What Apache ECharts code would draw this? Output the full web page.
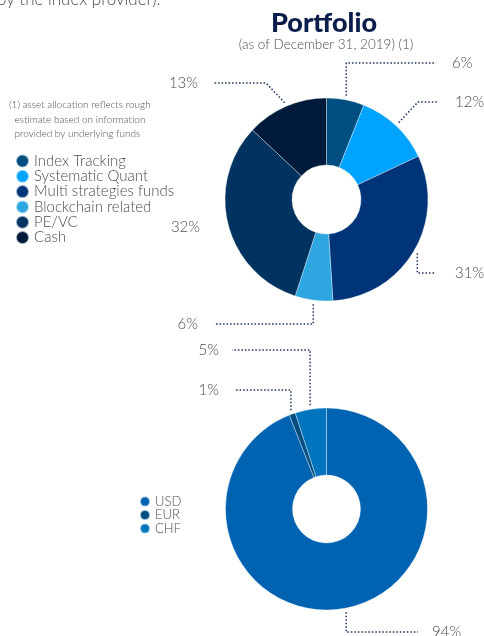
<!DOCTYPE html>
<html>
<head>
<meta charset="utf-8">
<script src="https://cdn.jsdelivr.net/npm/echarts@6/dist/echarts.min.js"></script>
<style>
html,body{margin:0;padding:0;background:#fff;}
#chart{width:484px;height:636px;}
</style>
</head>
<body>
<div id="chart"></div>
<script>
// ---- data ----
const portfolioCategories = ['Index Tracking', 'Systematic Quant', 'Multi strategies funds', 'Blockchain related', 'PE/VC', 'Cash'];
const portfolioValues = [6, 12, 31, 6, 32, 13];
const currencyCategories = ['USD', 'EUR', 'CHF'];
const currencyValues = [94, 1, 5];
const titleText = 'Portfolio';
const subtitleText = '(as of December 31, 2019) (1)';
const noteLines = ['(1) asset allocation reflects rough', '  estimate based on information', '  provided by underlying funds'];
const topCutText = 'by the index provider).';

// ---- styles / layout ----
const portfolioColors = ['#004f80', '#00a3ff', '#003478', '#2ea6e0', '#00335f', '#001a3c'];
const currencyColors = ['#0063b1', '#004e80', '#0075bd'];
const FONT = 'Lato, "Open Sans", sans-serif';
const TEXT_GRAY = '#4d4d4d';
const LINE_COLOR = '#1b2f5c';

// label placement (x,y of label, leader shape)
const portfolioLabelPlace = [
  {x: 452, y: 63, align: 'left', bend: 'vertical', endX: 436},
  {x: 455, y: 102, align: 'left', bend: 'elbow', elbowX: 418, endX: 437},
  {x: 455, y: 273, align: 'left', bend: 'vertical', endX: 436},
  {x: 198, y: 324, align: 'right', bend: 'vertical', endX: 214},
  {x: 200, y: 227, align: 'right', bend: 'none'},
  {x: 198, y: 83, align: 'right', bend: 'elbow', elbowX: 266, endX: 214}
];
const currencyLabelPlace = [
  {x: 432, y: 632, align: 'left', bend: 'vertical', endX: 418},
  {x: 219, y: 390, align: 'right', bend: 'vertical', endX: 234},
  {x: 219, y: 350, align: 'right', bend: 'vertical', endX: 232}
];

function makeLayout(place) {
  return function (params) {
    const p = place[params.dataIndex];
    const res = {x: p.x, y: p.y, align: p.align, verticalAlign: 'middle'};
    const pts = params.labelLinePoints;
    if (p.bend !== 'none' && pts && pts.length >= 2) {
      const dx = pts[1][0] - pts[0][0], dy = pts[1][1] - pts[0][1];
      const len = Math.sqrt(dx * dx + dy * dy) || 1;
      const s = [pts[0][0] + 4 * dx / len, pts[0][1] + 4 * dy / len];
      if (p.bend === 'vertical') {
        res.labelLinePoints = [s, [s[0], p.y], [p.endX, p.y]];
      } else {
        res.labelLinePoints = [s, [p.elbowX, p.y], [p.endX, p.y]];
      }
    }
    return res;
  };
}

function buildData(cats, vals, place) {
  return cats.map((n, i) => {
    const item = {name: n, value: vals[i]};
    if (place[i].bend === 'none') item.labelLine = {show: false};
    return item;
  });
}

const labelStyle = {
  show: true,
  formatter: '{c}%',
  fontFamily: FONT,
  fontWeight: 300,
  fontSize: 15,
  color: TEXT_GRAY
};
const labelLineStyle = {
  show: true,
  length: 15,
  length2: 15,
  lineStyle: {color: LINE_COLOR, width: 1.5, type: [1.5, 2]}
};

const chart = echarts.init(document.getElementById('chart'), null, {renderer: 'canvas'});
chart.setOption({
  animation: false,
  backgroundColor: '#fff',
  legend: [
    {
      data: portfolioCategories,
      orient: 'vertical',
      left: 10,
      top: 148.5,
      icon: 'circle',
      itemWidth: 13,
      itemHeight: 13,
      itemGap: 0.3,
      selectedMode: false,
      textStyle: {fontFamily: FONT, fontWeight: 300, fontSize: 15, lineHeight: 15, color: TEXT_GRAY}
    },
    {
      data: currencyCategories,
      orient: 'vertical',
      left: 134,
      top: 490,
      icon: 'circle',
      itemWidth: 10,
      itemHeight: 10,
      itemGap: 0.3,
      selectedMode: false,
      textStyle: {fontFamily: FONT, fontWeight: 300, fontSize: 13, lineHeight: 13.2, color: TEXT_GRAY}
    }
  ],
  graphic: [
    {type: 'text', left: -3, top: -9, style: {text: topCutText, font: '300 17px ' + FONT, fill: TEXT_GRAY}},
    {type: 'text', x: 324, y: 23, style: {text: titleText, font: '900 27px ' + FONT, fill: '#0b1d4a', textAlign: 'center', textVerticalAlign: 'middle'}},
    {type: 'text', x: 326, y: 45, style: {text: subtitleText, font: '300 13.5px ' + FONT, fill: TEXT_GRAY, textAlign: 'center', textVerticalAlign: 'middle'}},
    {type: 'text', left: 9, top: 98, style: {text: noteLines.join('\n'), font: '300 10px ' + FONT, fill: TEXT_GRAY, lineHeight: 14.5}}
  ],
  series: [
    {
      type: 'pie',
      center: [326.5, 199.5],
      radius: [34.5, 101.5],
      startAngle: 90,
      clockwise: true,
      avoidLabelOverlap: false,
      color: portfolioColors,
      itemStyle: {borderColor: 'rgba(255,255,255,0.6)', borderWidth: 0.6},
      label: labelStyle,
      labelLine: labelLineStyle,
      labelLayout: makeLayout(portfolioLabelPlace),
      emphasis: {disabled: true},
      data: buildData(portfolioCategories, portfolioValues, portfolioLabelPlace)
    },
    {
      type: 'pie',
      center: [326.5, 509],
      radius: [34, 101],
      startAngle: 90,
      clockwise: true,
      avoidLabelOverlap: false,
      color: currencyColors,
      itemStyle: {borderColor: 'rgba(255,255,255,0.6)', borderWidth: 0.6},
      label: labelStyle,
      labelLine: labelLineStyle,
      labelLayout: makeLayout(currencyLabelPlace),
      emphasis: {disabled: true},
      data: buildData(currencyCategories, currencyValues, currencyLabelPlace)
    }
  ]
});
</script>
</body>
</html>
